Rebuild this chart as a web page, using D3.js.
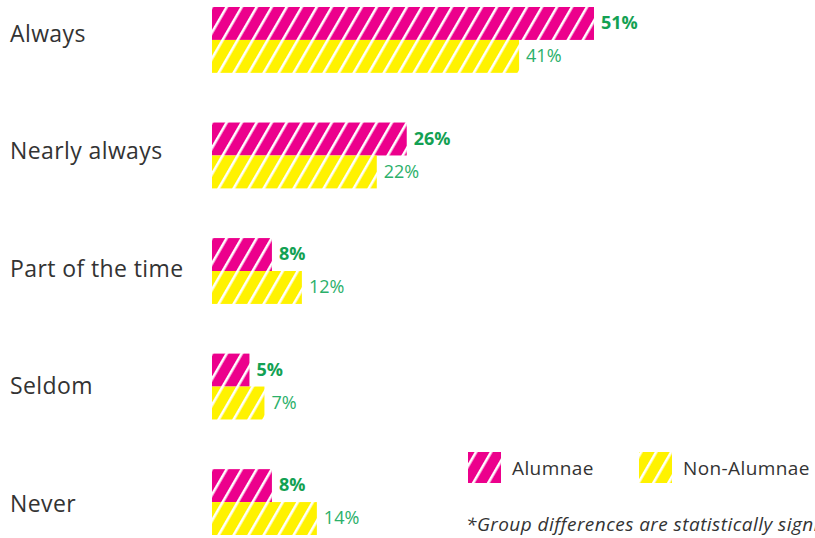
<!DOCTYPE html>
<html><head><meta charset="utf-8">
<script src="https://cdn.jsdelivr.net/npm/d3@7"></script>
<style>
html,body{margin:0;padding:0;background:#fff;}
svg{display:block;font-family:"Open Sans", Lato, sans-serif;}
</style></head>
<body>
<svg id="chart" width="815" height="538"></svg>
<script>
const categories = ["Always", "Nearly always", "Part of the time", "Seldom", "Never"];
const seriesNames = ["Alumnae", "Non-Alumnae"];
const alumnae = [51, 26, 8, 5, 8];
const nonAlumnae = [41, 22, 12, 7, 14];
const footnote = "*Group differences are statistically significant";

const colors = {"Alumnae": "#ec008c", "Non-Alumnae": "#fff200"};
const svg = d3.select("#chart");
const defs = svg.append("defs");
seriesNames.forEach((s, i) => {
  const p = defs.append("pattern").attr("id", "pat" + i)
    .attr("patternUnits", "userSpaceOnUse").attr("width", 13).attr("height", 13)
    .attr("patternTransform", "rotate(30)");
  p.append("rect").attr("width", 13).attr("height", 13).attr("fill", colors[s]);
  p.append("rect").attr("x", 0).attr("width", 2.6).attr("height", 13).attr("fill", "#fff");
});

const x = d3.scaleLinear().domain([0, 100]).range([212, 961]);
const y = d3.scaleBand().domain(categories).range([7, 535]).paddingInner(0.43).paddingOuter(0);
const ySub = d3.scaleBand().domain(seriesNames).range([0, y.bandwidth()]);
const yLabel = d3.scalePoint().domain(categories).range([42, 511.7]);

svg.selectAll("text.cat").data(categories).join("text").attr("class", "cat")
  .attr("x", 10).attr("y", d => yLabel(d))
  .attr("font-size", 23).attr("letter-spacing", 0.4).attr("fill", "#333").text(d => d);

const rows = categories.map((c, i) => ({cat: c, vals: [
  {s: "Alumnae", v: alumnae[i]}, {s: "Non-Alumnae", v: nonAlumnae[i]}]}));

const g = svg.selectAll("g.row").data(rows).join("g").attr("class", "row")
  .attr("transform", d => `translate(0,${y(d.cat)})`);

g.selectAll("rect.bar").data(d => d.vals).join("rect").attr("class", "bar")
  .attr("x", x(0)).attr("y", d => ySub(d.s))
  .attr("width", d => x(d.v) - x(0)).attr("height", ySub.bandwidth())
  .attr("fill", d => `url(#pat${seriesNames.indexOf(d.s)})`);

g.selectAll("text.val").data(d => d.vals).join("text").attr("class", "val")
  .attr("x", d => x(d.v) + 7).attr("y", d => ySub(d.s) + ySub.bandwidth() / 2 + 1)
  .attr("dominant-baseline", "middle")
  .attr("font-size", 18)
  .attr("font-weight", d => d.s === "Alumnae" ? 700 : 400)
  .attr("fill", d => d.s === "Alumnae" ? "#13a153" : "#2bb06a")
  .text(d => d.v + "%");

// legend
const legX = [468, 639];
seriesNames.forEach((s, i) => {
  svg.append("rect").attr("x", legX[i]).attr("y", 452).attr("width", 33).attr("height", 31)
    .attr("fill", `url(#pat${i})`);
  svg.append("text").attr("x", legX[i] + 44).attr("y", 475).attr("letter-spacing", 0.4)
    .attr("font-size", 19).attr("fill", "#333").text(s);
});
svg.append("text").attr("x", 466).attr("y", 531).attr("font-size", 19).attr("letter-spacing", 0.45)
  .attr("font-style", "italic").attr("fill", "#333").text(footnote);
</script>
</body></html>
